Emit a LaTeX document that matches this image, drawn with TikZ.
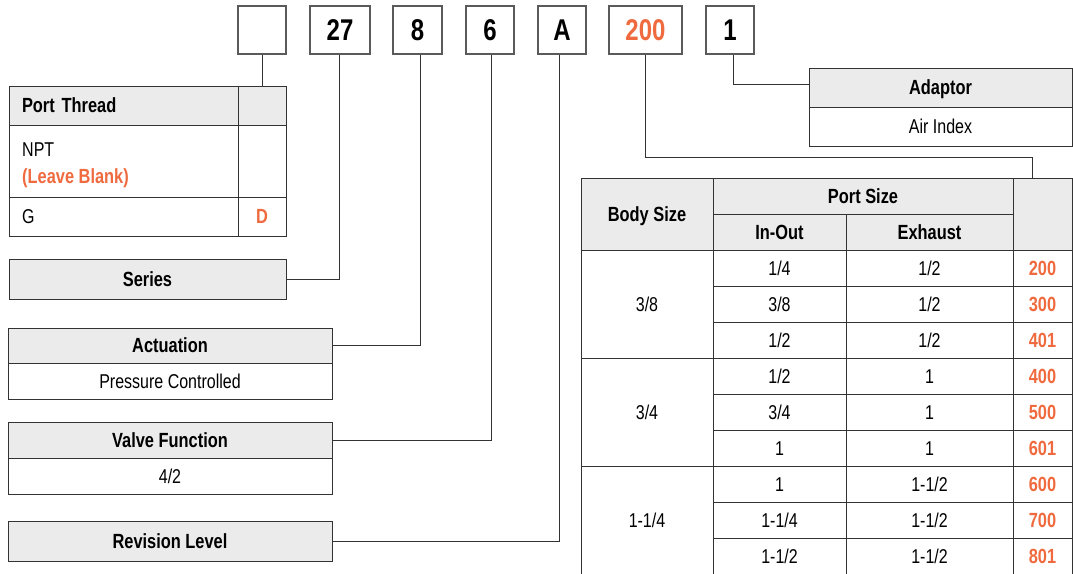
\documentclass[tikz,border=0pt]{standalone}
\usepackage{fontspec}
\setmainfont{Liberation Sans}[FakeStretch=0.8]
\definecolor{linec}{HTML}{333333}
\definecolor{boxc}{HTML}{5A5A5A}
\definecolor{hdgray}{HTML}{EBEBEB}
\definecolor{orange1}{HTML}{EF6B3F}
\newcommand\rgf{\fontsize{20}{24}\selectfont}
\newcommand\bdf{\fontsize{20.5}{24}\selectfont\bfseries}
\newcommand\bgf{\fontsize{30}{32}\selectfont\bfseries}
\newcommand\mycell[6]{\node[cb,#6,minimum width={#4-#2},minimum height={#5-#3}] (#1) at ({(#2+#4)/2},{(#3+#5)/2})}
\begin{document}
\begin{tikzpicture}[x=1pt,y=-1pt,
  cb/.style={draw=linec,line width=1pt,inner sep=0pt,outer sep=0pt,font=\rgf,text height=14.5pt,text depth=0pt},
  hd/.style={fill=hdgray,font=\bdf},
  org/.style={text=orange1,font=\bdf},
  topbox/.style={draw=boxc,line width=1.2pt,inner sep=0pt,font=\bgf,minimum height=48pt,text height=21.5pt,text depth=0pt},
  con/.style={draw=linec,line width=1pt}]
\useasboundingbox (0,0) rectangle (1073,573);
% top code boxes
\node[topbox,minimum width=48pt] (b0) at (262,30) {};
\node[topbox,minimum width=60pt] (b1) at (340,30) {27};
\node[topbox,minimum width=49pt] (b2) at (417.5,30) {8};
\node[topbox,minimum width=48pt] (b3) at (490,30) {6};
\node[topbox,minimum width=48pt] (b4) at (562,30) {A};
\node[topbox,minimum width=73pt,text=orange1] (b5) at (645.5,30) {200};
\node[topbox,minimum width=48pt] (b6) at (730,30) {1};
% Port Thread table
\mycell{pth}{9}{86}{238}{125}{hd,align=left,text width=203pt}{Port Thread};
\mycell{ptc}{238}{86}{286}{125}{hd}{};
\mycell{npt}{9}{125}{238}{197}{}{};
\mycell{nptc}{238}{125}{286}{197}{}{};
\node[anchor=base west,font=\rgf,inner sep=0pt] (nptA) at (22,156) {NPT};
\node[anchor=base west,font=\bdf,text=orange1,inner sep=0pt] (nptB) at (22,183) {(Leave Blank)};
\mycell{gr}{9}{197}{238}{236}{align=left,text width=203pt}{G};
\mycell{grc}{238}{197}{286}{236}{org}{D};
% left labels
\mycell{ser}{9}{259}{286}{299}{hd}{Series};
\mycell{act}{8}{328}{332}{363}{hd}{Actuation};
\mycell{actb}{8}{363}{332}{399}{}{Pressure Controlled};
\mycell{vf}{8}{422}{332}{458}{hd}{Valve Function};
\mycell{vfb}{8}{458}{332}{494}{}{4/2};
\mycell{rev}{8}{521}{332}{561}{hd}{Revision Level};
% adaptor
\mycell{adh}{809}{68}{1072}{107}{hd}{Adaptor};
\mycell{adb}{809}{107}{1072}{146}{}{Air Index};
% big table header
\mycell{bsh}{581}{178}{713}{250}{hd}{Body Size};
\mycell{psh}{713}{178}{1013}{214}{hd}{Port Size};
\mycell{ioh}{713}{214}{846}{250}{hd}{In-Out};
\mycell{exh}{846}{214}{1013}{250}{hd}{Exhaust};
\mycell{cdh}{1013}{178}{1072}{250}{hd}{};
% body size groups
\mycell{bs1}{581}{250}{713}{358}{}{3/8};
\mycell{bs2}{581}{358}{713}{466}{}{3/4};
\mycell{bs3}{581}{466}{713}{574}{}{1-1/4};
% rows
\mycell{io1}{713}{250}{846}{286}{}{1/4};
\mycell{ex1}{846}{250}{1013}{286}{}{1/2};
\mycell{cd1}{1013}{250}{1072}{286}{org}{200};
\mycell{io2}{713}{286}{846}{322}{}{3/8};
\mycell{ex2}{846}{286}{1013}{322}{}{1/2};
\mycell{cd2}{1013}{286}{1072}{322}{org}{300};
\mycell{io3}{713}{322}{846}{358}{}{1/2};
\mycell{ex3}{846}{322}{1013}{358}{}{1/2};
\mycell{cd3}{1013}{322}{1072}{358}{org}{401};
\mycell{io4}{713}{358}{846}{394}{}{1/2};
\mycell{ex4}{846}{358}{1013}{394}{}{1};
\mycell{cd4}{1013}{358}{1072}{394}{org}{400};
\mycell{io5}{713}{394}{846}{430}{}{3/4};
\mycell{ex5}{846}{394}{1013}{430}{}{1};
\mycell{cd5}{1013}{394}{1072}{430}{org}{500};
\mycell{io6}{713}{430}{846}{466}{}{1};
\mycell{ex6}{846}{430}{1013}{466}{}{1};
\mycell{cd6}{1013}{430}{1072}{466}{org}{601};
\mycell{io7}{713}{466}{846}{502}{}{1};
\mycell{ex7}{846}{466}{1013}{502}{}{1-1/2};
\mycell{cd7}{1013}{466}{1072}{502}{org}{600};
\mycell{io8}{713}{502}{846}{538}{}{1-1/4};
\mycell{ex8}{846}{502}{1013}{538}{}{1-1/2};
\mycell{cd8}{1013}{502}{1072}{538}{org}{700};
\mycell{io9}{713}{538}{846}{574}{}{1-1/2};
\mycell{ex9}{846}{538}{1013}{574}{}{1-1/2};
\mycell{cd9}{1013}{538}{1072}{574}{org}{801};
% connectors
\coordinate (k5) at (1032,157);
\draw[con] (b0.south) -- (ptc.north);
\draw[con] ([xshift=-1pt]b1.south) |- (ser.east);
\draw[con] ([xshift=3pt]b2.south) |- (act.east);
\draw[con] ([xshift=1pt]b3.south) |- (vf.east);
\draw[con] ([xshift=-3pt]b4.south) |- (rev.east);
\draw[con] (b5.south) |- (k5) -- (k5 |- cdh.north);
\draw[con] ([xshift=3pt]b6.south) |- ([yshift=3pt]adh.west);
\end{tikzpicture}
\end{document}
